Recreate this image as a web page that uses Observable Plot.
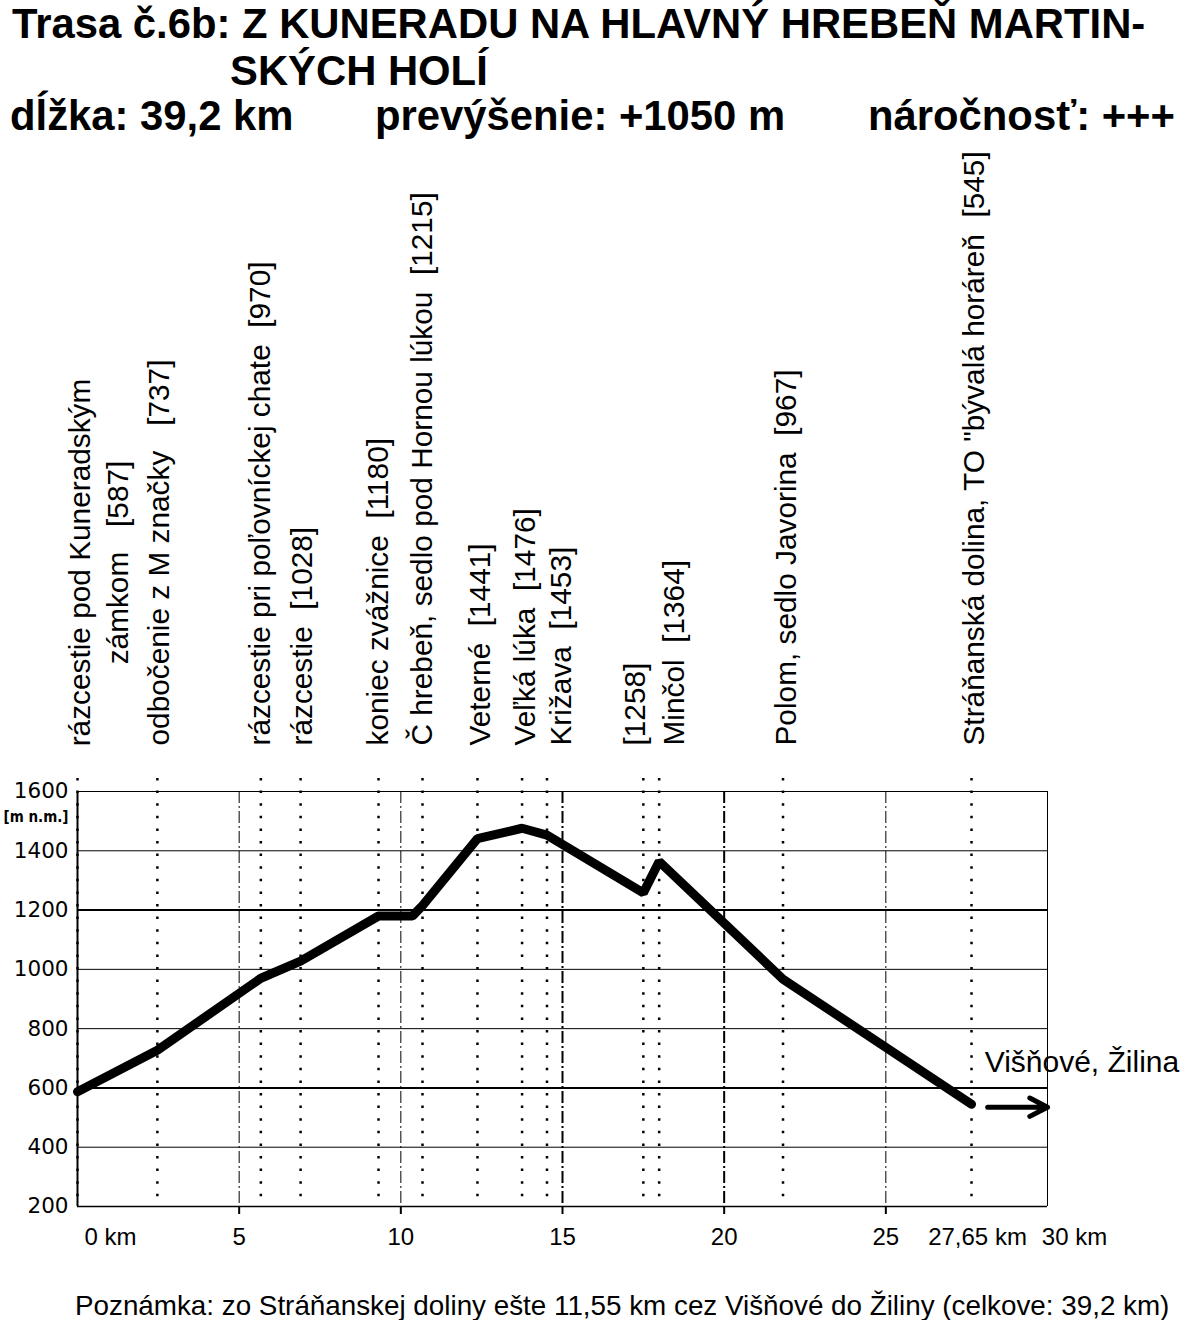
<!DOCTYPE html>
<html><head><meta charset="utf-8">
<script src="https://cdn.jsdelivr.net/npm/d3@7"></script>
<script src="https://cdn.jsdelivr.net/npm/@observablehq/plot@0.6"></script>
<style>
body{margin:0;background:#fff;color:#000}
#head{position:relative;height:145px;font-family:"Liberation Sans",Arial,sans-serif;font-weight:bold;font-size:41.8px;line-height:1;white-space:pre}
#head div{position:absolute}
#note{font-family:"Liberation Sans",Arial,sans-serif;font-size:27.8px;line-height:1;margin-top:31px;padding-left:75px;white-space:nowrap}
svg{display:block}
svg text{white-space:pre}
</style></head><body>
<div id="head">
 <div style="left:12px;top:3px">Trasa č.6b: Z KUNERADU NA HLAVNÝ HREBEŇ MARTIN-</div>
 <div style="left:230px;top:50px">SKÝCH HOLÍ</div>
 <div style="left:10px;top:95px">dĺžka: 39,2 km</div>
 <div style="left:375px;top:95px">prevýšenie: +1050 m</div>
 <div style="left:868px;top:95px">náročnosť: +++</div>
</div>
<div id="chart"></div>
<div id="note">Poznámka: zo Stráňanskej doliny ešte 11,55 km cez Višňové do Žiliny (celkove: 39,2 km)</div>
<script>
// ---- data ----
const profileKm   = [0, 2.47, 5.67, 6.9, 9.31, 10.36, 10.67, 12.37, 13.75, 14.52, 17.5, 17.99, 21.82, 27.65];
const profileElev = [587, 727, 970, 1028, 1180, 1180, 1215, 1441, 1476, 1453, 1258, 1364, 967, 545];

const waypointKm = [0, 2.47, 5.67, 6.9, 9.31, 10.67, 12.37, 13.75, 14.52, 17.5, 17.99, 21.82, 27.65];
const waypointLabel = [
  "rázcestie pod Kuneradským\nzámkom   [587]",
  "odbočenie z M značky   [737]",
  "rázcestie pri poľovníckej chate  [970]",
  "rázcestie  [1028]",
  "koniec zvážnice  [1180]",
  "Č hrebeň, sedlo pod Hornou lúkou  [1215]",
  "Veterné  [1441]",
  "Veľká lúka  [1476]",
  "Križava  [1453]",
  "[1258]",
  "Minčol  [1364]",
  "Polom, sedlo Javorina  [967]",
  "Stráňanská dolina, TO \"bývalá horáreň  [545]"
];

const yTicks = [200, 400, 600, 800, 1000, 1200, 1400, 1600];
const yGridThin = [400, 800, 1000, 1400];
const yGridBold = [600, 1200];
const xGridThin = [5, 10, 25];
const xGridBold = [15, 20];
const xMajorTicks = [5, 10, 15, 20, 25];
const xEndTicks = [0, 27.65, 30];
const xEndTickLabels = ["0 km", "27,65 km", "30 km"];

const continuationKm = [28.15, 30];
const continuationElev = 535;
const continuationLabel = "Višňové, Žilina";
const yUnitLabel = "[m n.m.]";

// ---- layout (pixels) ----
const W = 1181, H = 1116, mL = 77, mR = 134, mT = 646, mB = 55;
const kmPerPx = 30 / (W - mL - mR);
const labelNudgePx = [19, 2, 0, 2, 0, 0, 3, 3, 14, -8, 15, 3, 3];
const endTickNudgePx = [33, 6, 27];
const labelSize = 29.8;

const profile = profileKm.map((km, i) => ({km, elev: profileElev[i]}));
const waypoints = waypointKm.map((km, i) => ({km, label: waypointLabel[i], nudge: labelNudgePx[i]}));
const endTicks = xEndTicks.map((km, i) => ({km, label: xEndTickLabels[i], nudge: endTickNudgePx[i]}));
const continuation = [{x1: continuationKm[0], x2: continuationKm[1], y: continuationElev}];

const font = "Liberation Sans, Arial, sans-serif";

const chart = Plot.plot({
  width: W, height: H,
  marginLeft: mL, marginRight: mR, marginTop: mT, marginBottom: mB,
  x: {domain: [0, 30]},
  y: {domain: [200, 1600]},
  style: {fontFamily: font, background: "#fff", color: "#000", overflow: "visible"},
  marks: [
    Plot.ruleY(yGridThin, {stroke: "#000", strokeWidth: 1}),
    Plot.ruleY(yGridBold, {stroke: "#000", strokeWidth: 2}),
    Plot.ruleX(xGridThin, {stroke: "#000", strokeWidth: 1, strokeDasharray: "12,3,2,3"}),
    Plot.ruleX(xGridBold, {stroke: "#000", strokeWidth: 2, strokeDasharray: "12,3,2,3"}),
    Plot.ruleX(waypointKm, {stroke: "#000", strokeWidth: 2.5, strokeDasharray: "2.5,10.1", insetTop: -13}),
    // frame
    Plot.ruleY([200], {stroke: "#000", strokeWidth: 1.5}),
    Plot.ruleY([1600], {stroke: "#000", strokeWidth: 1}),
    Plot.ruleX([0], {stroke: "#000", strokeWidth: 2}),
    Plot.ruleX([30], {stroke: "#000", strokeWidth: 1}),
    // profile
    Plot.line(profile, {x: "km", y: "elev", stroke: "#000", strokeWidth: 9, strokeLinecap: "round", strokeLinejoin: "miter"}),
    Plot.arrow(continuation, {x1: "x1", x2: "x2", y1: "y", y2: "y", stroke: "#000", strokeWidth: 5, headLength: 20, headAngle: 55, bend: 0}),
    Plot.text(continuation, {x: "x1", y: "y", text: () => continuationLabel, textAnchor: "start", lineAnchor: "middle", dy: -45, dx: -3, fontSize: 30, fill: "#000"}),
    // axes
    Plot.axisY({ticks: yTicks, tickSize: 0, tickPadding: 9, tickFormat: d => String(d), fontSize: 21.5, fontFamily: "DejaVu Sans", label: null}),
    Plot.text([yUnitLabel], {frameAnchor: "top-left", text: d => d, textAnchor: "end", lineAnchor: "middle", dx: -9, dy: 26, fontSize: 15, fontWeight: "bold", fontFamily: "DejaVu Sans Condensed, DejaVu Sans", fill: "#000"}),
    Plot.axisX({ticks: xMajorTicks, tickSize: 8, tickFormat: () => "", strokeWidth: 2, label: null}),
    Plot.text(xMajorTicks, {x: d => d, text: d => String(d), frameAnchor: "bottom", dy: 31, lineAnchor: "middle", fontSize: 24, fill: "#000"}),
    Plot.text(endTicks, {x: d => d.km + d.nudge * kmPerPx, text: "label", frameAnchor: "bottom", dy: 31, lineAnchor: "middle", fontSize: 24, fill: "#000"}),
    // waypoint labels
    Plot.text(waypoints.slice(0, 1), {x: d => d.km + d.nudge * kmPerPx, text: "label", frameAnchor: "top", dy: -46 - 183, rotate: -90, textAnchor: "middle", lineAnchor: "middle", lineHeight: 1.28, fontSize: labelSize, fill: "#000"}),
    Plot.text(waypoints.slice(1), {x: d => d.km + d.nudge * kmPerPx, text: "label", frameAnchor: "top", dy: -46, rotate: -90, textAnchor: "start", lineAnchor: "middle", fontSize: labelSize, fill: "#000"})
  ]
});
document.getElementById("chart").append(chart);
</script>
</body></html>
